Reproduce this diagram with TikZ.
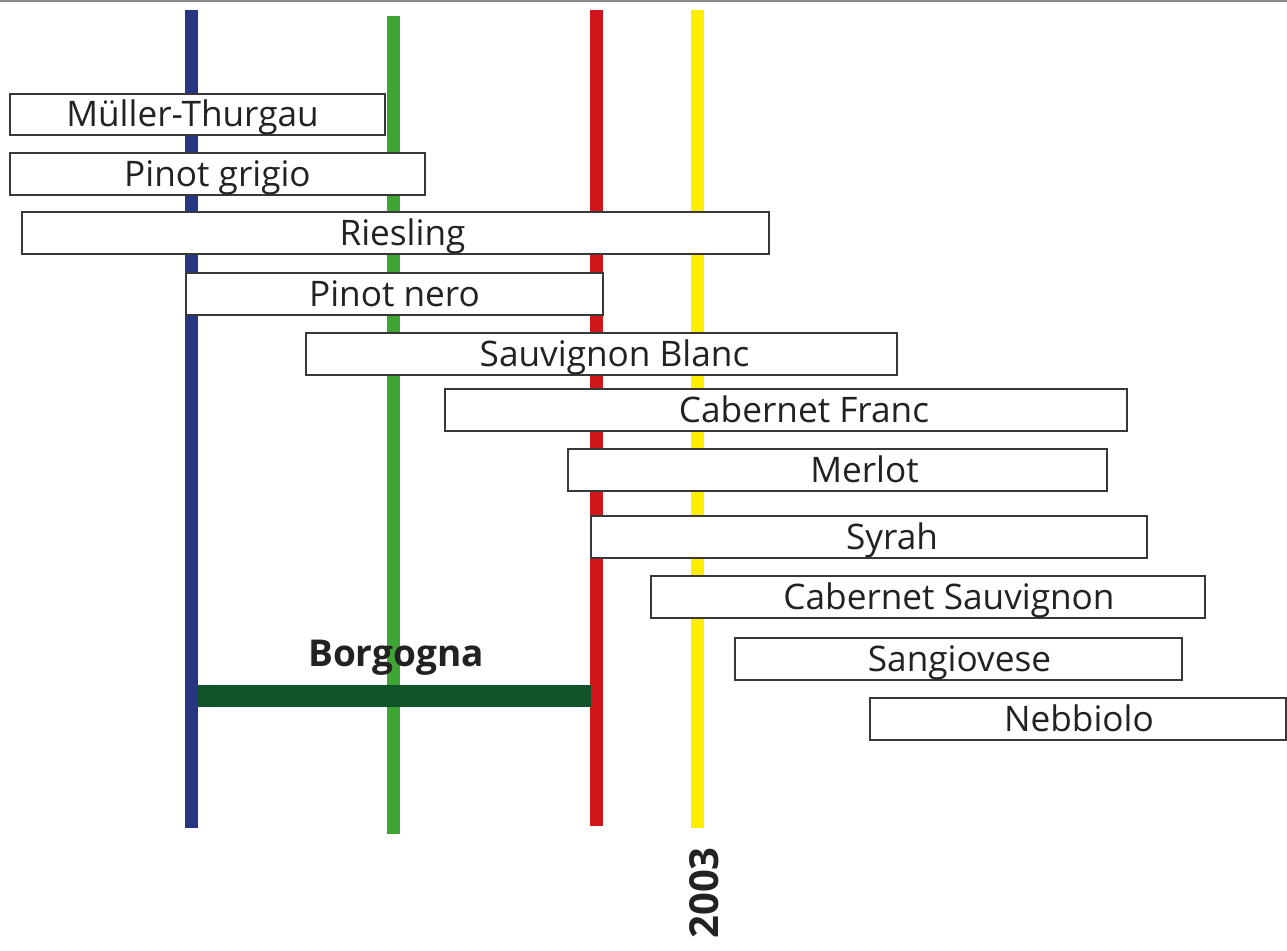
\documentclass[tikz,border=0pt]{standalone}
\usepackage{fontspec}
\setmainfont{Open Sans}
\definecolor{lineblue}{HTML}{283583}
\definecolor{linegreen}{HTML}{3FA535}
\definecolor{linered}{HTML}{D0161B}
\definecolor{lineyellow}{HTML}{FFED00}
\definecolor{bargreen}{HTML}{12542A}
\definecolor{inkgray}{HTML}{222222}
\definecolor{rulegray}{HTML}{8A8A8A}
\tikzset{
  era/.style={line width=6.5pt},
  grapebox/.style={draw=inkgray!90, line width=0.7pt, fill=white, inner sep=0pt,
    text=inkgray, font=\fontsize{17.6}{20}\selectfont,
    text height=12.2pt, text depth=0pt},
  yearlabel/.style={text=inkgray, font=\bfseries\fontsize{18.5}{22}\selectfont, inner sep=0pt},
}
% a grape box spanning the given corners (pixel grid, y downwards);
% the last argument nudges the name sideways inside its box
\newcommand{\grape}[7]{%
  \node[grapebox, minimum width={(#4-#2)*0.5pt}, minimum height={(#5-#3)*0.5pt}]
    (#1) at ({(#2+#4)/2},{(#3+#5)/2+1})
    {\hspace*{#7\dimexpr0.5pt\relax}#6\hspace*{-#7\dimexpr0.5pt\relax}};}
\begin{document}
\begin{tikzpicture}[x=0.5pt, y=-0.5pt]
\useasboundingbox (0,0) rectangle (1287,951);
% thin rule across the top
\draw[rulegray, line width=1pt] (0,1) -- (1287,1);
% vertical period lines
\coordinate (b1) at (191,10);  \coordinate (b2) at (191,828);
\coordinate (g1) at (393,16);  \coordinate (g2) at (393,834);
\coordinate (r1) at (596,10);  \coordinate (r2) at (596,826);
\coordinate (y1) at (697,10);  \coordinate (y2) at (697,828);
\draw[era, lineblue]   (b1) -- (b2);
\draw[era, linegreen]  (g1) -- (g2);
\draw[era, linered]    (r1) -- (r2);
\draw[era, lineyellow] (y1) -- (y2);
% Borgogna span
\coordinate (bo1) at (197,696); \coordinate (bo2) at (591,696);
\draw[bargreen, line width=11pt] (bo1) -- (bo2);
\node[yearlabel] (borg) at (396,658) {Borgogna};
\node[yearlabel, font=\bfseries\fontsize{20}{24}\selectfont, rotate=90] (year) at (704,893) {2003};
% grape varieties
\grape{mt}{10}{93}{385}{134}{Müller-Thurgau}{-5}
\grape{pg}{10}{152}{425}{194}{Pinot grigio}{0}
\grape{ri}{22}{211}{769}{253}{Riesling}{7}
\grape{pn}{186}{272}{603}{314}{Pinot nero}{0}
\grape{sb}{306}{332}{897}{374}{Sauvignon Blanc}{13}
\grape{cf}{445}{388}{1127}{430}{Cabernet Franc}{18}
\grape{me}{568}{448}{1107}{490}{Merlot}{27}
\grape{sy}{591}{515}{1147}{557}{Syrah}{23}
\grape{cs}{651}{575}{1205}{617}{Cabernet Sauvignon}{21}
\grape{sa}{735}{637}{1182}{679}{Sangiovese}{1}
\grape{ne}{870}{697}{1286}{739}{Nebbiolo}{1}
\end{tikzpicture}
\end{document}
